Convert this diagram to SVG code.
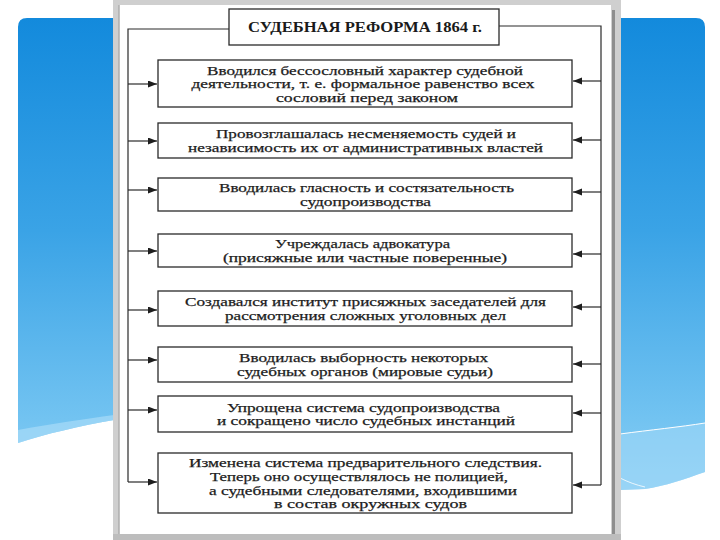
<svg xmlns="http://www.w3.org/2000/svg" width="720" height="540" viewBox="0 0 720 540">
<defs>
<linearGradient id="blue" x1="0" y1="0" x2="0" y2="1">
<stop offset="0" stop-color="#138adc"/>
<stop offset="0.45" stop-color="#3aa3e6"/>
<stop offset="0.85" stop-color="#72c3f1"/>
<stop offset="1" stop-color="#8fd0f5"/>
</linearGradient>
<marker id="ah" markerUnits="userSpaceOnUse" markerWidth="10" markerHeight="8" refX="9" refY="3.5" orient="auto">
<path d="M0,0 L9,3.5 L0,7 z" fill="#1e1e1e"/>
</marker>
<style>
.box{fill:#ffffff;stroke:#2a2a2a;stroke-width:1.3}
.t{font-family:"Liberation Serif","Times New Roman",serif;font-size:13px;fill:#1c1c1c;stroke:#1c1c1c;stroke-width:0.25;text-anchor:middle}
.title{font-family:"Liberation Serif","Times New Roman",serif;font-size:14px;font-weight:bold;fill:#1a1a1a;text-anchor:middle}
.ln{fill:none;stroke:#2a2a2a;stroke-width:1.2}
.ar{fill:none;stroke:#2a2a2a;stroke-width:1.2;marker-end:url(#ah)}
</style>
</defs>
<rect width="720" height="540" fill="#ffffff"/>
<!-- blue slide background -->
<path d="M18,27 Q18,18 27,18 H696 Q705,18 705,27 V472 C685,479 665,486 645,489 L620,490 L114,420 C80,426 45,434 18,443 Z" fill="url(#blue)"/>
<path d="M620,434 C650,430 680,427 705,423 V472 C685,479 665,486 645,489 L620,490 Z" fill="#9fd7f7" opacity="0.6"/>
<path d="M620,434 C650,430 680,427 705,423" fill="none" stroke="#ffffff" stroke-width="1"/>
<path d="M18,430 C50,424 85,419 114,415 L114,420 C80,426 45,434 18,443 Z" fill="#a8dbf8" opacity="0.7"/>
<path d="M620,478 C628,482 636,485 645,487" fill="none" stroke="#ffffff" stroke-width="0.8"/>
<!-- paper -->
<rect x="113" y="0" width="508" height="540" fill="#cfcfcf"/>
<rect x="120" y="5" width="491" height="529" fill="#ffffff"/>
<rect x="612" y="10" width="3" height="524" fill="#8e8e8e"/>
<rect x="118" y="5" width="1.5" height="529" fill="#b5b5b5"/>
<rect x="113" y="534" width="508" height="6" fill="#bdbdbd"/>

<g id="connectors">
<path class="ln" d="M229,29 H128 V482"/>
<path class="ln" d="M499,26 H601 V485"/>
<path class="ar" d="M128,84 H157"/>
<path class="ar" d="M128,141 H157"/>
<path class="ar" d="M128,190 H157"/>
<path class="ar" d="M128,251 H157"/>
<path class="ar" d="M128,310 H157"/>
<path class="ar" d="M128,360 H157"/>
<path class="ar" d="M128,410 H157"/>
<path class="ar" d="M128,482 H157"/>
<path class="ar" d="M601,81 H573"/>
<path class="ar" d="M601,140 H573"/>
<path class="ar" d="M601,192 H573"/>
<path class="ar" d="M601,254 H573"/>
<path class="ar" d="M601,307 H573"/>
<path class="ar" d="M601,364 H573"/>
<path class="ar" d="M601,413 H573"/>
<path class="ar" d="M601,485 H573"/>
</g>

<g id="title">
<rect class="box" x="229" y="9" width="270" height="36"/>
<text class="title" x="365" y="32" textLength="234" lengthAdjust="spacingAndGlyphs">СУДЕБНАЯ РЕФОРМА 1864 г.</text>
</g>

<g id="n1">
<rect class="box" x="158" y="60" width="414" height="47"/>
<text class="t" x="365" y="74.5" textLength="316" lengthAdjust="spacingAndGlyphs">Вводился бессословный характер судебной</text>
<text class="t" x="363" y="88" textLength="343" lengthAdjust="spacingAndGlyphs">деятельности, т. е. формальное равенство всех</text>
<text class="t" x="367" y="101.5" textLength="182" lengthAdjust="spacingAndGlyphs">сословий перед законом</text>
</g>

<g id="n2">
<rect class="box" x="158" y="123" width="414" height="35"/>
<text class="t" x="366" y="138" textLength="300" lengthAdjust="spacingAndGlyphs">Провозглашалась несменяемость судей и</text>
<text class="t" x="365.5" y="151.5" textLength="355" lengthAdjust="spacingAndGlyphs">независимость их от административных властей</text>
</g>

<g id="n3">
<rect class="box" x="158" y="178" width="414" height="33"/>
<text class="t" x="366.5" y="192" textLength="295" lengthAdjust="spacingAndGlyphs">Вводилась гласность и состязательность</text>
<text class="t" x="365.5" y="205.5" textLength="131" lengthAdjust="spacingAndGlyphs">судопроизводства</text>
</g>

<g id="n4">
<rect class="box" x="158" y="234" width="414" height="33"/>
<text class="t" x="362.5" y="248" textLength="175" lengthAdjust="spacingAndGlyphs">Учреждалась адвокатура</text>
<text class="t" x="365" y="261.5" textLength="284" lengthAdjust="spacingAndGlyphs">(присяжные или частные поверенные)</text>
</g>

<g id="n5">
<rect class="box" x="158" y="291" width="414" height="35"/>
<text class="t" x="365.5" y="306" textLength="361" lengthAdjust="spacingAndGlyphs">Создавался институт присяжных заседателей для</text>
<text class="t" x="365.5" y="319.5" textLength="281" lengthAdjust="spacingAndGlyphs">рассмотрения сложных уголовных дел</text>
</g>

<g id="n6">
<rect class="box" x="158" y="347" width="414" height="35"/>
<text class="t" x="363.5" y="362" textLength="249" lengthAdjust="spacingAndGlyphs">Вводилась выборность некоторых</text>
<text class="t" x="365" y="375.5" textLength="256" lengthAdjust="spacingAndGlyphs">судебных органов (мировые судьи)</text>
</g>

<g id="n7">
<rect class="box" x="158" y="396" width="414" height="36"/>
<text class="t" x="363.5" y="411.5" textLength="273" lengthAdjust="spacingAndGlyphs">Упрощена система судопроизводства</text>
<text class="t" x="366" y="425" textLength="298" lengthAdjust="spacingAndGlyphs">и сокращено число судебных инстанций</text>
</g>

<g id="n8">
<rect class="box" x="158" y="453" width="414" height="60"/>
<text class="t" x="365.5" y="467" textLength="353" lengthAdjust="spacingAndGlyphs">Изменена система предварительного следствия.</text>
<text class="t" x="359" y="481" textLength="298" lengthAdjust="spacingAndGlyphs">Теперь оно осуществлялось не полицией,</text>
<text class="t" x="363" y="494.5" textLength="308" lengthAdjust="spacingAndGlyphs">а судебными следователями, входившими</text>
<text class="t" x="370.5" y="508" textLength="193" lengthAdjust="spacingAndGlyphs">в состав окружных судов</text>
</g>
</svg>
